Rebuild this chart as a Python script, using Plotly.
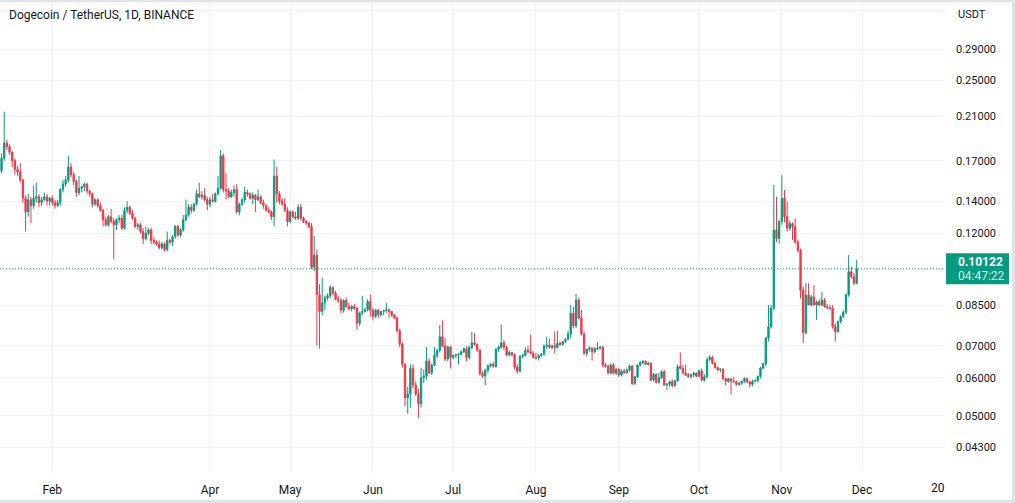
import math
import pandas as pd
import plotly.graph_objects as go

title_text = "Dogecoin / TetherUS, 1D, BINANCE"
quote_currency = "USDT"
first_day = "2022-01-13"

open_prices = [
    .162, .172, .185, .182, .177, .170, .163, .161, .155, .142, .133, .141, .137, .142, .143, .139, .141, .143, .140,
    .142, .139, .137, .139, .148, .152, .155, .165, .159, .154, .146, .149, .150, .152, .147, .145, .138, .141, .137, .134, .128, .125, .130, .127, .125, .128, .129, .123,
    .134, .136, .132, .129, .124, .125, .121, .117, .120, .122, .116, .115, .114, .112, .114, .111, .116, .115, .118, .124, .119, .122, .128, .131, .136, .134, .138, .145, .143, .144, .141,
    .138, .141, .140, .145, .149, .174, .148, .147, .143, .146, .148, .133, .138, .141, .146, .145, .142, .144, .141, .143, .139, .137, .134, .133, .130, .158, .145, .140, .138, .134,
    .127, .133, .130, .129, .136, .129, .127, .126, .124, .102, .108, .0895, .0825, .086, .088, .089, .0925, .090, .0875, .087, .083, .087, .0845, .0835, .0845, .0838, .078, .082, .0825, .0832, .0865,
    .083, .0805, .083, .0812, .0825, .0828, .0832, .0825, .081, .080, .0752, .0705, .064, .0545, .0556, .0628, .058, .0555, .053, .060, .0605, .065, .0615, .0638, .0668, .0684, .0731, .070, .0657, .0696,
    .0662, .0668, .067, .0672, .068, .069, .0662, .0694, .071, .0704, .0685, .0612, .0606, .0622, .0636, .064, .0634, .0688, .0695, .071, .0695, .067, .0678, .067, .0632, .062, .0665, .0668, .0685, .068, .0675,
    .0662, .066, .0668, .0672, .0698, .0702, .0694, .070, .0694, .0708, .0704, .0714, .0722, .074, .0818, .077, .0871, .080, .074, .0675, .0688, .0692, .068, .069, .0692, .0695, .0638, .0634, .0614, .0638, .0614,
    .0625, .0608, .062, .0615, .0623, .0635, .0584, .0603, .0638, .0646, .065, .064, .0644, .0594, .061, .0587, .060, .0618, .058, .0582, .0589, .0578, .0592, .0633, .0628, .0614, .0608, .0604, .0609, .0614,
    .0605, .062, .0594, .0603, .0655, .0662, .0644, .063, .0624, .0626, .0598, .059, .0597, .059, .0589, .0581, .0585, .059, .0598, .0588, .0582, .059, .0592, .0604, .0629, .0642, .0726, .0767, .0838, .1219, .1171,
    .1269, .142, .130, .123, .1258, .1238, .115, .1105, .0914, .0745, .0893, .0851, .0884, .0851, .0864, .0851, .0871, .0844, .084, .0838, .0767, .0749, .0786, .0805, .0822, .0893, .0998, .0975, .0944,
]

high_prices = [
    .176, .215, .188, .184, .178, .172, .166, .168, .156, .144, .145, .143, .151, .153, .145, .143, .146, .145, .143,
    .144, .141, .141, .149, .155, .158, .174, .168, .161, .155, .158, .151, .153, .153, .148, .146, .142, .142, .139, .135, .130, .131, .135, .129, .129, .131, .131, .136,
    .140, .137, .134, .130, .126, .126, .123, .124, .123, .123, .118, .116, .116, .115, .115, .121, .117, .119, .125, .125, .123, .131, .141, .138, .138, .139, .148, .153, .147, .149, .143,
    .143, .145, .146, .158, .179, .176, .160, .149, .148, .151, .152, .139, .142, .150, .148, .146, .146, .145, .148, .144, .141, .138, .136, .134, .171, .165, .147, .142, .142, .136,
    .134, .134, .133, .138, .138, .130, .128, .127, .126, .1185, .111, .094, .097, .089, .090, .0936, .093, .091, .089, .088, .0875, .088, .086, .085, .0855, .0845, .0825, .089, .084, .0875, .0895,
    .084, .0835, .0835, .0828, .083, .086, .0836, .0828, .0815, .0805, .076, .0712, .0645, .0575, .064, .064, .059, .057, .063, .0625, .0695, .066, .0642, .0696, .069, .0773, .079, .0726, .070, .070,
    .0672, .0672, .0675, .0685, .0694, .0698, .070, .0749, .0742, .0708, .069, .062, .0628, .064, .0645, .0648, .0692, .070, .0775, .072, .070, .0685, .068, .0675, .064, .067, .0672, .0695, .070, .0738, .0682,
    .0676, .0672, .0676, .0705, .0731, .0725, .0704, .0749, .0752, .0714, .0716, .0725, .0752, .0851, .0844, .0898, .0881, .0831, .0749, .069, .0698, .0695, .0695, .0712, .070, .070, .0645, .064, .0642, .0645, .063,
    .063, .0625, .0626, .0628, .064, .0638, .0606, .064, .065, .0653, .0652, .0648, .0646, .0614, .0613, .0614, .0622, .0623, .0585, .0592, .0596, .0595, .064, .0678, .0638, .064, .0614, .0612, .0618, .0616,
    .0625, .0628, .061, .0662, .0669, .0668, .0648, .0634, .0628, .0628, .060, .060, .060, .0602, .0592, .0588, .0592, .0602, .060, .0592, .0595, .0596, .0607, .0632, .0645, .073, .0851, .0851, .1513, .1431, .128,
    .1587, .1477, .1397, .1275, .1265, .129, .1165, .1115, .093, .0945, .0944, .0893, .0936, .087, .0875, .0906, .088, .0855, .0852, .085, .078, .079, .081, .083, .090, .1081, .1023, .099, .1056,
]

low_prices = [
    .160, .170, .179, .175, .165, .159, .158, .153, .139, .121, .130, .126, .135, .139, .136, .137, .140, .137, .137,
    .137, .135, .136, .137, .146, .150, .153, .157, .151, .143, .144, .146, .147, .145, .143, .136, .137, .136, .133, .124, .124, .124, .126, .106, .122, .126, .122, .122,
    .132, .131, .128, .123, .122, .120, .114, .116, .119, .114, .114, .113, .111, .111, .110, .110, .114, .113, .117, .118, .118, .121, .127, .130, .132, .133, .137, .142, .141, .140, .134,
    .136, .139, .139, .144, .148, .146, .141, .142, .142, .143, .132, .131, .137, .139, .143, .141, .138, .133, .140, .138, .135, .133, .132, .128, .124, .139, .138, .137, .133, .124,
    .126, .129, .128, .128, .128, .126, .125, .123, .101, .100, .070, .069, .081, .083, .087, .088, .089, .087, .086, .0818, .082, .084, .083, .0825, .083, .0755, .077, .081, .082, .0825, .0805,
    .079, .080, .080, .0805, .081, .082, .080, .0805, .0795, .0745, .0695, .063, .0523, .0505, .052, .057, .055, .0495, .052, .0585, .0595, .061, .0608, .0635, .066, .0678, .0696, .065, .065, .0628,
    .0655, .066, .064, .0668, .0675, .065, .0655, .0688, .070, .068, .0606, .060, .058, .0615, .063, .063, .063, .068, .069, .0685, .0665, .0665, .0665, .0625, .0612, .0615, .066, .0665, .0675, .0672, .0658,
    .0655, .0652, .0662, .0668, .069, .069, .0688, .0676, .069, .070, .070, .0708, .0718, .0726, .0762, .0762, .0795, .0735, .067, .0665, .068, .0652, .0675, .0685, .0686, .0632, .063, .061, .061, .061, .0608,
    .0603, .0605, .0612, .0612, .0618, .058, .058, .060, .0633, .064, .0638, .0636, .059, .059, .0584, .0584, .0598, .0578, .0566, .0575, .0574, .0575, .0588, .0624, .061, .0606, .060, .0598, .0602, .0602,
    .0602, .059, .0589, .060, .065, .064, .0628, .062, .0616, .0594, .0578, .0586, .0553, .0585, .0578, .0578, .058, .0586, .0586, .0573, .0576, .0587, .0588, .0598, .0625, .0635, .0715, .076, .083, .115, .1143,
    .125, .1265, .121, .1215, .1162, .1143, .1095, .0878, .0708, .074, .085, .0845, .0848, .0792, .0846, .0845, .084, .0835, .0832, .076, .0714, .0745, .078, .080, .0815, .0885, .0965, .0935, .094,
]

close_prices = [
    .172, .185, .182, .177, .170, .163, .161, .155, .142, .133, .141, .137, .142, .143, .139, .141, .143, .140, .142,
    .139, .137, .139, .148, .152, .155, .165, .159, .154, .146, .149, .150, .152, .147, .145, .138, .141, .137, .134, .128, .125, .130, .127, .125, .128, .129, .123, .134,
    .136, .132, .129, .124, .125, .121, .117, .120, .122, .116, .115, .114, .112, .114, .111, .116, .115, .118, .124, .119, .122, .128, .131, .136, .134, .138, .145, .143, .144, .141, .138,
    .141, .140, .145, .149, .174, .148, .147, .143, .146, .148, .133, .138, .141, .146, .145, .142, .144, .141, .143, .139, .137, .134, .133, .130, .158, .145, .140, .138, .134, .127,
    .133, .130, .129, .136, .129, .127, .126, .124, .102, .108, .0895, .0825, .086, .088, .089, .0925, .090, .0875, .087, .083, .087, .0845, .0835, .0845, .0838, .078, .082, .0825, .0832, .0865, .083,
    .0805, .083, .0812, .0825, .0828, .0832, .0825, .081, .080, .0752, .0705, .064, .0545, .0556, .0628, .058, .0555, .053, .060, .0605, .065, .0615, .0638, .0668, .0684, .0731, .070, .0657, .0696, .0662,
    .0668, .067, .0672, .068, .069, .0662, .0694, .071, .0704, .0685, .0612, .0606, .0622, .0636, .064, .0634, .0688, .0695, .071, .0695, .067, .0678, .067, .0632, .062, .0665, .0668, .0685, .068, .0675, .0662,
    .066, .0668, .0672, .0698, .0702, .0694, .070, .0694, .0708, .0704, .0714, .0722, .074, .0818, .077, .0871, .080, .074, .0675, .0688, .0692, .068, .069, .0692, .0695, .0638, .0634, .0614, .0638, .0614, .0625,
    .0608, .062, .0615, .0623, .0635, .0584, .0603, .0638, .0646, .065, .064, .0644, .0594, .061, .0587, .060, .0618, .058, .0582, .0589, .0578, .0592, .0633, .0628, .0614, .0608, .0604, .0609, .0614, .0605,
    .062, .0594, .0603, .0655, .0662, .0644, .063, .0624, .0626, .0598, .059, .0597, .059, .0589, .0581, .0585, .059, .0598, .0588, .0582, .059, .0592, .0604, .0629, .0642, .0726, .0767, .0838, .1219, .1171, .1269,
    .142, .130, .123, .1258, .1238, .115, .1105, .0914, .0745, .0893, .0851, .0884, .0851, .0864, .0851, .0871, .0844, .084, .0838, .0767, .0749, .0786, .0805, .0822, .0893, .0998, .0975, .0944, .10122,
]

last_price_text = "0.10122"
countdown_text = "04:47:22"

price_ticks = [0.35, 0.29, 0.25, 0.21, 0.17, 0.14, 0.12, 0.085, 0.07, 0.06, 0.05, 0.043]
price_tick_labels = ["", "0.29000", "0.25000", "0.21000", "0.17000", "0.14000", "0.12000",
                     "0.08500", "0.07000", "0.06000", "0.05000", "0.04300"]
month_ticks = ["2022-02-01", "2022-04-01", "2022-05-01", "2022-06-01", "2022-07-01",
               "2022-08-01", "2022-09-01", "2022-10-01", "2022-11-01", "2022-12-01"]
month_labels = ["Feb", "Apr", "May", "Jun", "Jul", "Aug", "Sep", "Oct", "Nov", "Dec"]
year_label = "20"

x_view = ["2022-01-12 10:15", "2023-01-01 01:26"]
y_view = [0.03802, 0.3639]

# ---- styling ----
UP = "#089981"
DOWN = "#f23645"
TEXT = "#131722"
GRID = "#f0f3fa"
FRAME = "#e0e3eb"
FONT = "Roboto"

W, H = 1015, 503
ML, MR, MT, MB = 0, 70, 2, 30
PW = W - ML - MR
PH = H - MT - MB


def px_x(px):
    return (px - ML) / PW


def px_y(py):
    return (H - MB - py) / PH


n = min(len(open_prices), len(high_prices), len(low_prices), len(close_prices))
dates = pd.date_range(first_day, periods=n, freq="D")

fig = go.Figure()
fig.add_trace(go.Candlestick(
    x=dates,
    open=open_prices[:n], high=high_prices[:n], low=low_prices[:n], close=close_prices[:n],
    increasing=dict(line=dict(color=UP, width=1), fillcolor=UP),
    decreasing=dict(line=dict(color=DOWN, width=1), fillcolor=DOWN),
    whiskerwidth=0,
    showlegend=False,
))

last = close_prices[n - 1]
fig.add_trace(go.Scatter(
    x=x_view, y=[last, last], mode="lines",
    line=dict(color=UP, width=1, dash="1px,2px"),
    hoverinfo="skip", showlegend=False,
))

ylo, yhi = math.log10(y_view[0]), math.log10(y_view[1])
last_frac = (math.log10(last) - ylo) / (yhi - ylo)
box_half = 15.5 / PH

shapes = [
    # price label box
    dict(type="rect", xref="paper", yref="paper",
         x0=px_x(946), x1=px_x(1009), y0=last_frac - box_half, y1=last_frac + box_half,
         fillcolor=UP, line=dict(width=0), layer="above"),
    # outer frame strips
    dict(type="rect", xref="paper", yref="paper", x0=px_x(0), x1=px_x(W), y0=px_y(2), y1=px_y(0),
         fillcolor=FRAME, line=dict(width=0), layer="above"),
    dict(type="rect", xref="paper", yref="paper", x0=px_x(0), x1=px_x(W), y0=px_y(H), y1=px_y(H - 3),
         fillcolor=FRAME, line=dict(width=0), layer="above"),
    dict(type="rect", xref="paper", yref="paper", x0=px_x(W - 3), x1=px_x(W), y0=px_y(H), y1=px_y(0),
         fillcolor=FRAME, line=dict(width=0), layer="above"),
]

annotations = [
    dict(text=title_text, xref="paper", yref="paper", x=px_x(7), y=px_y(15),
         xanchor="left", yanchor="middle", showarrow=False,
         font=dict(family=FONT, size=12, color=TEXT)),
    dict(text=quote_currency, xref="paper", yref="paper", x=px_x(956), y=px_y(15),
         xanchor="left", yanchor="middle", showarrow=False,
         font=dict(family=FONT, size=11, color=TEXT)),
    dict(text=year_label, xref="paper", yref="paper", x=px_x(938), y=px_y(488),
         xanchor="center", yanchor="middle", showarrow=False,
         font=dict(family=FONT, size=12, color=TEXT)),
    dict(text="<b>" + last_price_text + "</b>", xref="paper", yref="paper",
         x=px_x(956), y=last_frac + 6.5 / PH, xanchor="left", yanchor="middle", showarrow=False,
         font=dict(family=FONT, size=12, color="#ffffff")),
    dict(text=countdown_text, xref="paper", yref="paper",
         x=px_x(956), y=last_frac - 7 / PH, xanchor="left", yanchor="middle", showarrow=False,
         font=dict(family=FONT, size=12, color="rgba(255,255,255,0.85)")),
]

fig.update_layout(
    width=W, height=H,
    margin=dict(l=ML, r=MR, t=MT, b=MB, pad=0),
    paper_bgcolor="#ffffff", plot_bgcolor="#ffffff",
    font=dict(family=FONT, color=TEXT),
    shapes=shapes, annotations=annotations,
    showlegend=False,
    xaxis=dict(
        type="date", range=x_view,
        rangeslider=dict(visible=False),
        tickmode="array", tickvals=month_ticks, ticktext=month_labels,
        showgrid=True, gridcolor=GRID, gridwidth=1,
        zeroline=False, showline=False, ticks="",
        ticklabelstandoff=8,
        tickfont=dict(family=FONT, size=12, color=TEXT),
        fixedrange=True,
    ),
    yaxis=dict(
        type="log", side="right", range=[ylo, yhi],
        tickmode="array", tickvals=price_ticks, ticktext=price_tick_labels,
        showgrid=True, gridcolor=GRID, gridwidth=1,
        zeroline=False, showline=False, ticks="",
        ticklabelstandoff=10,
        tickfont=dict(family=FONT, size=11, color=TEXT),
        fixedrange=True,
    ),
)

fig.write_html("out.html", config={"displayModeBar": False})
